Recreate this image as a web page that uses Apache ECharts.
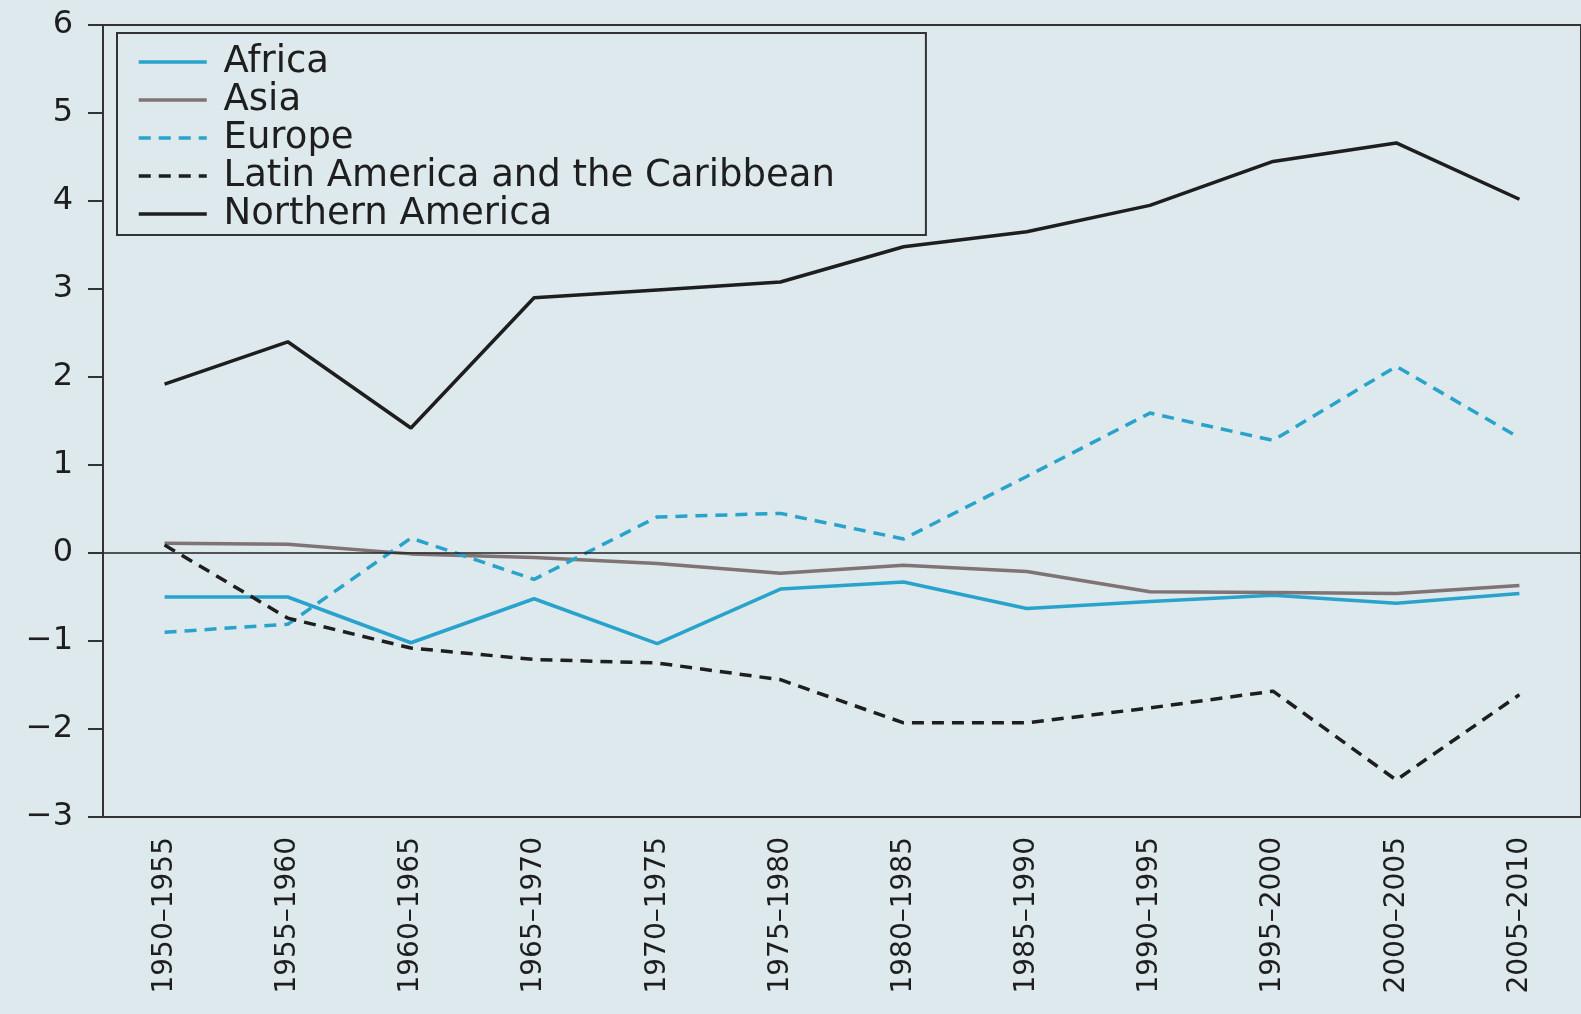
<!DOCTYPE html>
<html lang="en">
<head>
    <meta charset="utf-8">
    <title>Net migration by region</title>
    <script type="text/javascript" src="https://cdn.jsdelivr.net/npm/echarts@6/dist/echarts.min.js"></script>
    <style>
        html, body { margin: 0; padding: 0; background: #dde9ec; }
        #main { width: 1581px; height: 1014px; }
    </style>
</head>
<body>
<div id="main"></div>
<script>
    // periods on the x axis
    var periods = ['1950–1955', '1955–1960', '1960–1965', '1965–1970', '1970–1975', '1975–1980',
        '1980–1985', '1985–1990', '1990–1995', '1995–2000', '2000–2005', '2005–2010'];
    var yTicks = [-3, -2, -1, 0, 1, 2, 3, 4, 5, 6];

    // values
    var africa = [-0.50, -0.50, -1.02, -0.52, -1.03, -0.41, -0.33, -0.63, -0.55, -0.48, -0.57, -0.46];
    var asia = [0.11, 0.10, -0.01, -0.05, -0.12, -0.23, -0.14, -0.21, -0.44, -0.45, -0.46, -0.37];
    var europe = [-0.90, -0.81, 0.17, -0.30, 0.41, 0.45, 0.16, 0.87, 1.59, 1.28, 2.12, 1.31];
    var latinAmerica = [0.09, -0.74, -1.08, -1.21, -1.25, -1.44, -1.93, -1.93, -1.76, -1.57, -2.58, -1.61];
    var northernAmerica = [1.92, 2.40, 1.42, 2.90, 2.99, 3.08, 3.48, 3.65, 3.95, 4.45, 4.66, 4.02];

    var cyan = '#2aa3cc';
    var brown = '#7f7374';
    var black = '#1e1e1e';
    var font = 'DejaVu Sans';

    function line(name, data, color, dashed) {
        return {
            name: name,
            type: 'line',
            data: data,
            symbol: 'none',
            showSymbol: false,
            lineStyle: { color: color, width: 3.5, type: dashed ? [12, 8] : 'solid' },
            itemStyle: { color: color }
        };
    }

    var myChart = echarts.init(document.getElementById('main'));

    var series = [
        line('Africa', africa, cyan, false),
        line('Asia', asia, brown, false),
        line('Europe', europe, cyan, true),
        line('Latin America and the Caribbean', latinAmerica, black, true),
        line('Northern America', northernAmerica, black, false)
    ];
    // zero reference line
    series[0].markLine = {
        silent: true,
        symbol: 'none',
        label: { show: false },
        lineStyle: { color: '#222', width: 1.5, type: 'solid' },
        data: [{ yAxis: 0 }]
    };

    var option = {
        backgroundColor: '#dde9ec',
        animation: false,
        grid: {
            left: 103, right: -10, top: 25, bottom: 197,
            show: true, borderColor: '#333', borderWidth: 2, backgroundColor: 'transparent'
        },
        legend: {
            orient: 'vertical',
            left: 117, top: 33,
            padding: [10, 91, 2, 20],
            itemWidth: 68, itemHeight: 20, itemGap: 0,
            borderColor: '#333', borderWidth: 2,
            backgroundColor: '#dde9ec',
            itemStyle: { opacity: 0 },
            lineStyle: { width: 3.5 },
            formatter: function (name) { return ' ' + name; },
            textStyle: { fontFamily: font, fontSize: 37, lineHeight: 38, color: '#1e1e1e' },
            data: series.map(function (s) { return s.name; })
        },
        xAxis: {
            type: 'category',
            data: periods,
            boundaryGap: true,
            axisLine: { show: true, onZero: false, lineStyle: { color: '#333', width: 2 } },
            axisTick: { show: false },
            axisLabel: { rotate: 90, margin: 20, fontFamily: font, fontSize: 28, color: '#1e1e1e', interval: 0 }
        },
        yAxis: {
            type: 'value',
            min: yTicks[0], max: yTicks[yTicks.length - 1], interval: 1,
            splitLine: { show: false },
            axisLine: { show: true, lineStyle: { color: '#333', width: 2 } },
            axisTick: { show: true, inside: false, length: 15, lineStyle: { color: '#333', width: 2 } },
            axisLabel: {
                margin: 30, fontFamily: font, fontSize: 32, color: '#1e1e1e',
                formatter: function (v) { return String(v).replace('-', '\u2212'); }
            }
        },
        series: series
    };
    myChart.setOption(option);
</script>
</body>
</html>
